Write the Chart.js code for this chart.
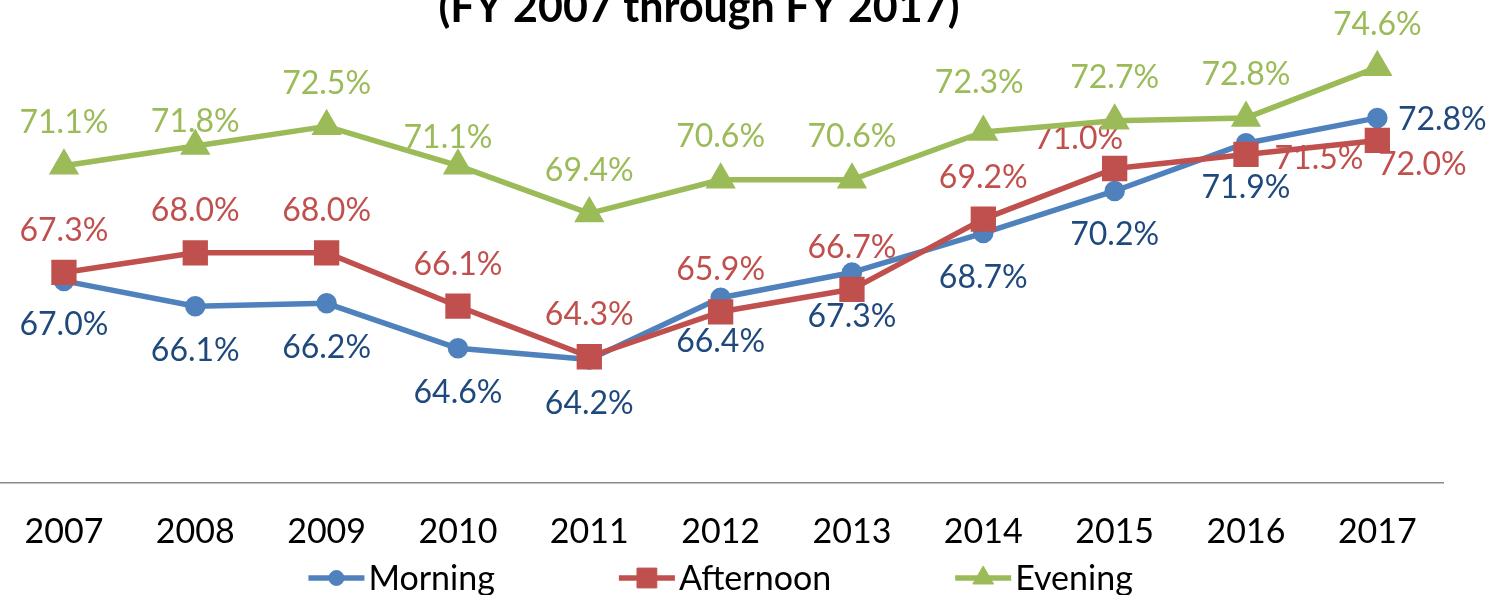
<!DOCTYPE html>
<html>
<head>
<meta charset="utf-8">
<script src="https://cdn.jsdelivr.net/npm/chart.js@4.4.1/dist/chart.umd.min.js"></script>
<style>
  html, body { margin: 0; padding: 0; background: #fff; }
  #wrap { position: relative; width: 1494px; height: 595px; overflow: hidden; }
  /* plot area starts a few px left of the crop edge in the original */
  #chart { position: absolute; left: -4px; top: 0; }
</style>
</head>
<body>
<div id="wrap"><canvas id="chart" width="1498" height="595"></canvas></div>
<script>
const years = ['2007', '2008', '2009', '2010', '2011', '2012', '2013', '2014', '2015', '2016', '2017'];
const morning = [67.0, 66.1, 66.2, 64.6, 64.2, 66.4, 67.3, 68.7, 70.2, 71.9, 72.8];
const afternoon = [67.3, 68.0, 68.0, 66.1, 64.3, 65.9, 66.7, 69.2, 71.0, 71.5, 72.0];
const evening = [71.1, 71.8, 72.5, 71.1, 69.4, 70.6, 70.6, 72.3, 72.7, 72.8, 74.6];
const titleText = '(FY 2007 through FY 2017)';

const FONT = 'Lato, "Open Sans", sans-serif';
const CAP = 0.7165; // Lato cap height / em
const LABEL_SIZE = 32;

// data label placement: default vertical shift, plus a few hand-placed ones
function shifts(dy, extra) {
    return years.map((_, i) => extra[i] || [0, dy]);
}

const pointLabels = {
    id: 'pointLabels',
    beforeDatasetsDraw(chart) {
        const ctx = chart.ctx;
        ctx.save();
        ctx.font = `${LABEL_SIZE}px ${FONT}`;
        ctx.textAlign = 'center';
        ctx.textBaseline = 'alphabetic';
        chart.data.datasets.forEach((ds, i) => {
            const meta = chart.getDatasetMeta(i);
            ctx.fillStyle = ds.labelColor;
            meta.data.forEach((pt, j) => {
                const [dx, dy] = ds.labelShift[j];
                ctx.fillText(ds.data[j].toFixed(1) + '%', pt.x + dx, pt.y + dy + LABEL_SIZE * CAP / 2);
            });
        });
        ctx.restore();
    },
};

const titleAndLegend = {
    id: 'titleAndLegend',
    afterDraw(chart) {
        const ctx = chart.ctx;
        ctx.save();
        // title (top part is cropped in the original)
        ctx.font = `bold 43px ${FONT}`;
        ctx.fillStyle = '#000';
        ctx.textAlign = 'center';
        ctx.textBaseline = 'alphabetic';
        ctx.fillText(titleText, 703, 22);

        // legend: line + marker, then the series name
        const size = 34;
        ctx.font = `${size}px ${FONT}`;
        ctx.textAlign = 'left';
        const sw = 56, gapText = 4, gapItem = 124;
        const items = chart.data.datasets.map((ds) => ({ ds, w: ctx.measureText(ds.label).width }));
        const total = items.reduce((s, it) => s + sw + gapText + it.w, 0) + gapItem * (items.length - 1);
        let x = (chart.chartArea.left + chart.chartArea.right) / 2 - total / 2;
        const y = 578;
        items.forEach(({ ds, w }) => {
            ctx.strokeStyle = ds.borderColor;
            ctx.lineWidth = ds.borderWidth;
            ctx.beginPath();
            ctx.moveTo(x, y);
            ctx.lineTo(x + sw, y);
            ctx.stroke();
            ctx.fillStyle = ds.borderColor;
            ctx.lineWidth = 1;
            Chart.helpers.drawPoint(ctx, { pointStyle: ds.pointStyle, radius: ds.pointRadius, borderWidth: 1, rotation: 0 }, x + sw / 2, y);
            ctx.fillStyle = '#000';
            ctx.fillText(ds.label, x + sw + gapText, y + size * CAP / 2);
            x += sw + gapText + w + gapItem;
        });
        ctx.restore();
    },
};

new Chart(document.getElementById('chart'), {
    type: 'line',
    data: {
        labels: years,
        datasets: [
            {
                label: 'Morning',
                data: morning,
                borderColor: '#4F81BD',
                backgroundColor: '#4F81BD',
                pointBackgroundColor: '#4F81BD',
                pointStyle: 'circle',
                pointRadius: 7.5,
                borderWidth: 5.5,
                order: 3,
                labelColor: '#1F497D',
                labelShift: shifts(43, { 10: [65, 1] }),
            },
            {
                label: 'Afternoon',
                data: afternoon,
                borderColor: '#C0504D',
                backgroundColor: '#C0504D',
                pointBackgroundColor: '#C0504D',
                pointStyle: 'rect',
                pointRadius: 14,
                borderWidth: 5.5,
                order: 2,
                labelColor: '#C0504D',
                labelShift: shifts(-43, { 8: [-36, -31], 9: [73, 3], 10: [45, 23] }),
            },
            {
                label: 'Evening',
                data: evening,
                borderColor: '#9BBB59',
                backgroundColor: '#9BBB59',
                pointBackgroundColor: '#9BBB59',
                pointStyle: 'triangle',
                pointRadius: 12,
                borderWidth: 5.5,
                order: 1,
                labelColor: '#9BBB59',
                labelShift: shifts(-44, { 1: [0, -25], 3: [-10, -29], 7: [-4, -50] }),
            },
        ],
    },
    options: {
        responsive: false,
        animation: false,
        events: [],
        layout: { autoPadding: false, padding: { left: 0, right: 51, top: 28, bottom: 14 } },
        elements: {
            line: { tension: 0, borderCapStyle: 'round', borderJoinStyle: 'round' },
            point: { borderWidth: 1, hoverRadius: 0 },
        },
        datasets: { line: { clip: false } },
        scales: {
            x: {
                offset: true,
                grid: { display: false, drawTicks: false, tickLength: 0 },
                border: { display: true, color: '#8A8A8A', width: 1.5 },
                ticks: {
                    color: '#000',
                    font: { family: FONT, size: 34 },
                    padding: 28.5,
                    maxRotation: 0,
                    autoSkip: false,
                },
            },
            y: { display: false, min: 59.8, max: 76 },
        },
        plugins: {
            legend: { display: false },
            title: { display: false },
            tooltip: { enabled: false },
        },
    },
    plugins: [pointLabels, titleAndLegend],
});
</script>
</body>
</html>
